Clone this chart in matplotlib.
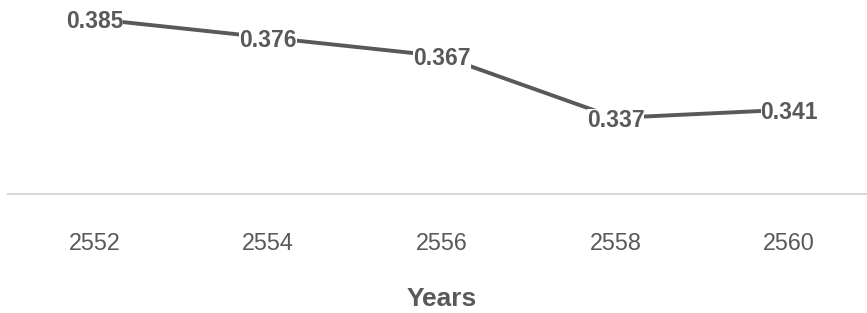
import numpy as np
import matplotlib
matplotlib.use("Agg")
import matplotlib.pyplot as plt

plt.rcParams['font.family'] = ['Liberation Sans', 'DejaVu Sans']

years = ['2552', '2554', '2556', '2558', '2560']
values = [0.385, 0.376, 0.367, 0.337, 0.341]

grey = '#595959'

fig = plt.figure(figsize=(8.67, 3.13), dpi=100)
ax = fig.add_axes([0.0088, 0.380, 1.0017, 0.592])

x = np.arange(len(years))
ax.plot(x, values, color=grey, linewidth=2.8, solid_capstyle='round', zorder=2)

# data labels sit on the points, white box hides the line under them
for xi, v in zip(x, values):
    ax.text(xi, v, '%.3f' % v, ha='center', va='center_baseline',
            fontsize=16.5, fontweight='bold', color=grey, zorder=3,
            bbox=dict(facecolor='white', edgecolor='none', pad=0))

ax.set_xlim(-0.5, 4.5)
ax.set_ylim(0.30, 0.39)
ax.set_xticks(x)
ax.set_xticklabels(years)
ax.set_yticks([])
ax.tick_params(axis='x', length=0, pad=27, labelsize=16.8, labelcolor=grey)

for s in ['top', 'left', 'right']:
    ax.spines[s].set_visible(False)
ax.spines['bottom'].set_color('#d9d9d9')
ax.spines['bottom'].set_linewidth(1.5)

fig.text(442 / 867, (313 - 305.6) / 313, 'Years', ha='center', va='baseline',
         fontsize=19, fontweight='bold', color=grey)

fig.savefig('out.png', dpi=100)
